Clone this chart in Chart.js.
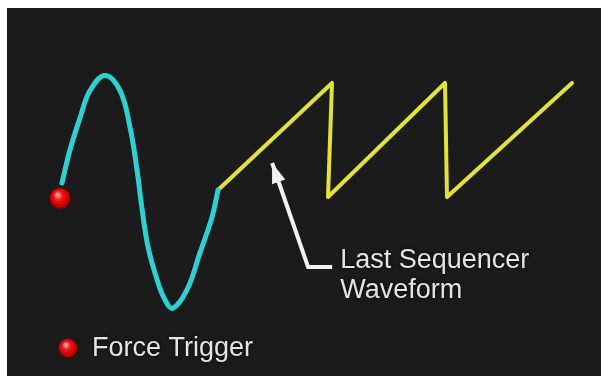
<!DOCTYPE html>
<html>
<head>
<meta charset="utf-8">
<script src="https://cdn.jsdelivr.net/npm/chart.js@4/dist/chart.umd.min.js"></script>
<style>
    body { margin: 0; background: #ffffff; width: 601px; height: 376px; overflow: hidden; }
    #wrap { position: absolute; left: 7px; top: 8px; width: 594px; height: 368px; background: #1b1b1b; }
</style>
</head>
<body>
<div id="wrap"><canvas id="scope" width="594" height="368"></canvas></div>
<script>
// time axis (one sine period = 4 units), amplitude axis in volts
const timeRange = [-1.342, 13.696];
const voltRange = [-1.59, 1.556];

const sineTime = [0.05, 0.25, 0.51, 0.76, 1.14, 1.52, 1.77, 1.95, 2.08, 2.23, 2.46, 2.66, 2.86, 3.22, 3.54, 3.85, 4.0];
const sineVolt = [0.06, 0.34, 0.62, 0.85, 0.98, 0.85, 0.54, 0.17, -0.17, -0.49, -0.77, -0.94, -1.01, -0.85, -0.54, -0.23, 0.0];

const sawTime = [4.0, 6.886, 6.785, 9.747, 9.797, 12.962];
const sawVolt = [0.0, 0.915, -0.06, 0.915, -0.06, 0.915];

const triggerTime = [0];
const triggerVolt = [-0.07];

const arrowTime = [5.37, 6.28, 6.89];
const arrowVolt = [0.231, -0.658, -0.658];

const triggerLabel = 'Force Trigger';
const waveLabel = ['Last Sequencer', 'Waveform'];

function toPoints(xs, ys) {
    return xs.map((x, i) => ({x: x, y: ys[i]}));
}

// red 3d ball used for the trigger point and its legend
function makeBall(size) {
    const c = document.createElement('canvas');
    c.width = size; c.height = size;
    const g = c.getContext('2d');
    const r = size / 2;
    const grad = g.createRadialGradient(r * 0.75, r * 0.65, 1, r, r, r);
    grad.addColorStop(0, '#ff9a9a');
    grad.addColorStop(0.35, '#f01818');
    grad.addColorStop(0.8, '#c40000');
    grad.addColorStop(1, '#780000');
    g.fillStyle = grad;
    g.beginPath();
    g.arc(r, r, r - 0.5, 0, Math.PI * 2);
    g.fill();
    return c;
}
const bigBall = makeBall(22);
const smallBall = makeBall(20);

const textFont = '27px "Liberation Sans", Arial, sans-serif';

const labelPlugin = {
    id: 'labels',
    afterDatasetsDraw(chart) {
        const ctx = chart.ctx;
        const xs = chart.scales.x, ys = chart.scales.y;

        // arrow head at the first point of the arrow path
        const tipX = xs.getPixelForValue(arrowTime[0]), tipY = ys.getPixelForValue(arrowVolt[0]);
        const bX = xs.getPixelForValue(arrowTime[1]), bY = ys.getPixelForValue(arrowVolt[1]);
        const ang = Math.atan2(tipY - bY, tipX - bX);
        const len = 20, half = 7;
        ctx.save();
        ctx.fillStyle = '#f2f2f2';
        ctx.beginPath();
        ctx.moveTo(tipX, tipY);
        ctx.lineTo(tipX - len * Math.cos(ang) + half * Math.sin(ang), tipY - len * Math.sin(ang) - half * Math.cos(ang));
        ctx.lineTo(tipX - len * Math.cos(ang) - half * Math.sin(ang), tipY - len * Math.sin(ang) + half * Math.cos(ang));
        ctx.closePath();
        ctx.fill();

        // label next to the arrow tail
        const endX = xs.getPixelForValue(arrowTime[2]), endY = ys.getPixelForValue(arrowVolt[2]);
        ctx.font = textFont;
        ctx.fillStyle = '#e4e4e4';
        ctx.shadowColor = 'rgba(0,0,0,0.9)';
        ctx.shadowBlur = 3;
        ctx.textBaseline = 'alphabetic';
        waveLabel.forEach((line, i) => {
            ctx.fillText(line, endX + 8, endY + 1 + i * 30);
        });

        // force trigger legend
        const lx = chart.chartArea.left + 61, ly = chart.chartArea.bottom - 28;
        ctx.shadowBlur = 0;
        ctx.drawImage(smallBall, lx - smallBall.width / 2, ly - smallBall.height / 2);
        ctx.shadowBlur = 3;
        ctx.textBaseline = 'middle';
        ctx.fillText(triggerLabel, lx + 24, ly + 1);
        ctx.restore();
    }
};

new Chart(document.getElementById('scope'), {
    type: 'line',
    data: {
        datasets: [{
            label: triggerLabel,
            data: toPoints(triggerTime, triggerVolt),
            showLine: false,
            pointStyle: bigBall,
            pointRadius: 11,
            pointHoverRadius: 11
        }, {
            label: 'Input',
            data: toPoints(sineTime, sineVolt),
            borderColor: '#2fd0d4',
            borderWidth: 5,
            tension: 0.4,
            borderCapStyle: 'round',
            borderJoinStyle: 'round',
            pointRadius: 0
        }, {
            label: 'Last Sequencer Waveform',
            data: toPoints(sawTime, sawVolt),
            borderColor: '#e2e23c',
            borderWidth: 4,
            tension: 0,
            borderCapStyle: 'round',
            borderJoinStyle: 'round',
            pointRadius: 0
        }, {
            label: 'arrow',
            data: toPoints(arrowTime, arrowVolt),
            borderColor: '#f2f2f2',
            borderWidth: 4,
            tension: 0,
            borderJoinStyle: 'miter',
            pointRadius: 0
        }]
    },
    options: {
        responsive: false,
        devicePixelRatio: 1,
        animation: false,
        layout: { padding: 0, autoPadding: false },
        scales: {
            x: { type: 'linear', min: timeRange[0], max: timeRange[1], display: false },
            y: { type: 'linear', min: voltRange[0], max: voltRange[1], display: false }
        },
        plugins: {
            legend: { display: false },
            tooltip: { enabled: false }
        }
    },
    plugins: [labelPlugin]
});
</script>
</body>
</html>
